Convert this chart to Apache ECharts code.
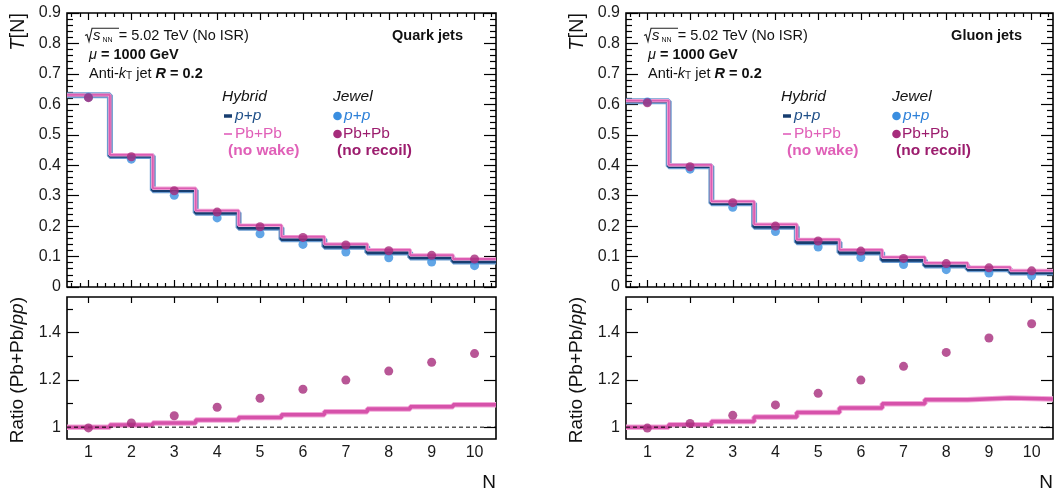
<!DOCTYPE html>
<html>
<head>
<meta charset="utf-8">
<script src="https://cdn.jsdelivr.net/npm/echarts@6/dist/echarts.min.js"></script>
<style>
html, body { margin: 0; padding: 0; background: #fff; }
#chart { width: 1055px; height: 491px; }
</style>
</head>
<body>
<div id="chart"></div>
<script>
// N bins
const bins = [1, 2, 3, 4, 5, 6, 7, 8, 9, 10];

// quark jets
const quarkHybridPP   = [0.630, 0.430, 0.318, 0.244, 0.195, 0.157, 0.132, 0.113, 0.097, 0.084];
const quarkHybridPbPb = [0.631, 0.434, 0.324, 0.251, 0.203, 0.165, 0.141, 0.122, 0.105, 0.092];
const quarkJewelPP    = [0.623, 0.420, 0.301, 0.227, 0.175, 0.140, 0.115, 0.096, 0.082, 0.070];
const quarkJewelPbPb  = [0.622, 0.428, 0.316, 0.246, 0.198, 0.163, 0.138, 0.119, 0.104, 0.092];
const quarkHybridRatio = [1.000, 1.009, 1.018, 1.030, 1.041, 1.052, 1.065, 1.077, 1.086, 1.095];
const quarkJewelRatio  = [0.997, 1.018, 1.048, 1.084, 1.122, 1.160, 1.199, 1.237, 1.274, 1.311];

// gluon jets
const gluonHybridPP   = [0.610, 0.397, 0.275, 0.198, 0.147, 0.113, 0.089, 0.071, 0.058, 0.048];
const gluonHybridPbPb = [0.612, 0.401, 0.281, 0.206, 0.156, 0.122, 0.098, 0.079, 0.065, 0.054];
const gluonJewelPP    = [0.608, 0.387, 0.262, 0.182, 0.131, 0.097, 0.074, 0.057, 0.046, 0.037];
const gluonJewelPbPb  = [0.605, 0.395, 0.277, 0.200, 0.151, 0.118, 0.094, 0.077, 0.063, 0.053];
const gluonHybridRatio = [1.000, 1.010, 1.024, 1.043, 1.062, 1.081, 1.099, 1.116, 1.123, 1.119];
const gluonJewelRatio  = [0.996, 1.016, 1.050, 1.094, 1.143, 1.199, 1.257, 1.316, 1.377, 1.437];

// axis ticks
const topTicks = [0, 0.1, 0.2, 0.3, 0.4, 0.5, 0.6, 0.7, 0.8, 0.9];
const ratioTicks = [1, 1.2, 1.4];
const ratioMinorTicks = [1.1, 1.3, 1.5];

const FONT = '"Liberation Sans", Arial, Helvetica, sans-serif';
const NAVY = '#173e70', NAVY_LIGHT = '#6b9bd0';
const PINK = '#dc5cb2', PINK_LIGHT = '#f2a8d8';
const BLUE_DOT = '#3a8ee0', MAG_DOT = '#a62c7c';

// minor ticks (0.2 on x, 0.02 on top y)
const xMinor = [];
for (let v = 0.6; v < 10.5; v += 0.2) {
  if (Math.abs(v - Math.round(v)) > 0.05) xMinor.push(+v.toFixed(1));
}
const yMinor = [];
for (let v = 0.02; v < 0.9; v += 0.02) {
  if (Math.abs(v * 10 - Math.round(v * 10)) > 0.05) yMinor.push(+v.toFixed(2));
}

const panels = [
  { dx: 0, left: 67, width: 429, title: 'Quark jets',
    hybPP: quarkHybridPP, hybPbPb: quarkHybridPbPb, jewPP: quarkJewelPP, jewPbPb: quarkJewelPbPb,
    hybRatio: quarkHybridRatio, jewRatio: quarkJewelRatio },
  { dx: 559, left: 626, width: 427, title: 'Gluon jets',
    hybPP: gluonHybridPP, hybPbPb: gluonHybridPbPb, jewPP: gluonJewelPP, jewPbPb: gluonJewelPbPb,
    hybRatio: gluonHybridRatio, jewRatio: gluonJewelRatio }
];

const grids = [], xAxes = [], yAxes = [], series = [], graphics = [];

// one axis = one set of inside ticks (ROOT style frame)
function tickAxis(gi, pos, min, max, ticks, len, labels) {
  return {
    type: 'value', gridIndex: gi, position: pos, min: min, max: max,
    axisLine: { show: false, onZero: false },
    splitLine: { show: false },
    axisTick: { show: ticks.length > 0, inside: true, length: len, customValues: ticks,
      lineStyle: { color: '#000', width: 1.2 } },
    axisLabel: labels ? { show: true, customValues: labels, margin: 6,
      fontFamily: FONT, fontSize: 16, color: '#1a1a1a' } : { show: false }
  };
}

function stepData(vals) {
  const d = vals.map((v, i) => [bins[i] - 0.5, v]);
  d.push([bins[bins.length - 1] + 0.5, vals[vals.length - 1]]);
  return d;
}
function pts(vals) { return vals.map((v, i) => [bins[i], v]); }

function stepLine(xi, yi, vals, color, width, z) {
  return { type: 'line', xAxisIndex: xi, yAxisIndex: yi, step: 'end', data: stepData(vals),
    symbol: 'none', lineStyle: { color: color, width: width }, z: z, silent: true };
}
function dots(xi, yi, vals, color, z) {
  return { type: 'scatter', xAxisIndex: xi, yAxisIndex: yi, data: pts(vals),
    symbolSize: 9, itemStyle: { color: color }, z: z, silent: true };
}

function txt(x, y, text, o) {
  return { type: 'text', x: x, y: y, silent: true, z: 100,
    style: Object.assign({ text: text, fontFamily: FONT, fontSize: 14, fill: '#111',
      align: 'left', verticalAlign: 'middle' }, o) };
}

panels.forEach((p) => {
  const gTop = grids.length;
  grids.push({ left: p.left, top: 13, width: p.width, height: 274, show: true,
    borderColor: '#000', borderWidth: 1.6, backgroundColor: 'transparent' });
  const gRat = grids.length;
  grids.push({ left: p.left, top: 297, width: p.width, height: 142, show: true,
    borderColor: '#000', borderWidth: 1.6, backgroundColor: 'transparent' });

  // top panel axes
  const xTop = xAxes.length;
  xAxes.push(tickAxis(gTop, 'bottom', 0.5, 10.5, bins, 7, null));
  xAxes.push(tickAxis(gTop, 'bottom', 0.5, 10.5, xMinor, 4, null));
  xAxes.push(tickAxis(gTop, 'top', 0.5, 10.5, bins, 7, null));
  xAxes.push(tickAxis(gTop, 'top', 0.5, 10.5, xMinor, 4, null));
  const yTop = yAxes.length;
  yAxes.push(tickAxis(gTop, 'left', 0, 0.9, topTicks, 12, topTicks));
  yAxes.push(tickAxis(gTop, 'left', 0, 0.9, yMinor, 6, null));
  yAxes.push(tickAxis(gTop, 'right', 0, 0.9, topTicks, 12, null));
  yAxes.push(tickAxis(gTop, 'right', 0, 0.9, yMinor, 6, null));

  // ratio panel axes
  const xRat = xAxes.length;
  xAxes.push(tickAxis(gRat, 'bottom', 0.5, 10.5, [], 7, bins));
  xAxes.push(tickAxis(gRat, 'top', 0.5, 10.5, bins, 6, null));
  const yRat = yAxes.length;
  yAxes.push(tickAxis(gRat, 'left', 0.95, 1.55, ratioTicks, 12, ratioTicks));
  yAxes.push(tickAxis(gRat, 'left', 0.95, 1.55, ratioMinorTicks, 6, null));
  yAxes.push(tickAxis(gRat, 'right', 0.95, 1.55, ratioTicks, 12, null));
  yAxes.push(tickAxis(gRat, 'right', 0.95, 1.55, ratioMinorTicks, 6, null));

  // top panel marks
  series.push(stepLine(xTop, yTop, p.hybPP, NAVY_LIGHT, 6, 2));
  series.push(stepLine(xTop, yTop, p.hybPP, NAVY, 3.5, 3));
  series.push(stepLine(xTop, yTop, p.hybPbPb, PINK_LIGHT, 3.5, 4));
  series.push(stepLine(xTop, yTop, p.hybPbPb, PINK, 1.8, 5));
  series.push(dots(xTop, yTop, p.jewPP, BLUE_DOT, 6));
  series.push(dots(xTop, yTop, p.jewPbPb, MAG_DOT, 7));

  // ratio panel marks
  series.push(stepLine(xRat, yRat, p.hybRatio, PINK_LIGHT, 5.5, 2));
  series.push(stepLine(xRat, yRat, p.hybRatio, '#d652aa', 3.5, 3));
  series.push({ type: 'line', xAxisIndex: xRat, yAxisIndex: yRat, data: [[0.5, 1], [10.5, 1]],
    symbol: 'none', lineStyle: { color: '#000', width: 1, type: [4, 3] }, z: 4, silent: true });
  series.push(dots(xRat, yRat, p.jewRatio, MAG_DOT, 6));

  const dx = p.dx;
  // info text
  graphics.push({ type: 'polyline', silent: true, z: 100,
    shape: { points: [[85 + dx, 35.5], [87 + dx, 34.5], [89 + dx, 41.5], [92 + dx, 28.3], [119 + dx, 28.3]] },
    style: { stroke: '#222', lineWidth: 1.1, fill: null } });
  graphics.push(txt(93 + dx, 36, '{s|s}{nn|NN}{t| = 5.02 TeV (No ISR)}', {
    rich: {
      s: { fontFamily: FONT, fontSize: 15, fontStyle: 'italic', fill: '#111' },
      nn: { fontFamily: FONT, fontSize: 7, fill: '#111', verticalAlign: 'bottom', padding: [0, 2, 0, 2] },
      t: { fontFamily: FONT, fontSize: 14.5, fill: '#111' }
    } }));
  graphics.push(txt(89 + dx, 55, '{m|μ}{b| = 1000 GeV}', {
    rich: {
      m: { fontFamily: FONT, fontSize: 14.5, fontStyle: 'italic', fill: '#111' },
      b: { fontFamily: FONT, fontSize: 14.5, fontWeight: 'bold', fill: '#111' }
    } }));
  graphics.push(txt(89 + dx, 74, '{r|Anti-}{k|k}{sub|T}{r| jet }{R|R}{b| = 0.2}', {
    rich: {
      r: { fontFamily: FONT, fontSize: 14.5, fill: '#111' },
      k: { fontFamily: FONT, fontSize: 14.5, fontStyle: 'italic', fill: '#111' },
      sub: { fontFamily: FONT, fontSize: 10, fill: '#111', verticalAlign: 'bottom' },
      R: { fontFamily: FONT, fontSize: 14.5, fontStyle: 'italic', fontWeight: 'bold', fill: '#111' },
      b: { fontFamily: FONT, fontSize: 14.5, fontWeight: 'bold', fill: '#111' }
    } }));
  graphics.push(txt(463 + dx, 36, p.title, { align: 'right', fontWeight: 'bold', fontSize: 14.5 }));

  // legend
  graphics.push(txt(222 + dx, 97, 'Hybrid', { fontSize: 15.5, fontStyle: 'italic' }));
  graphics.push({ type: 'line', silent: true, z: 100,
    shape: { x1: 224 + dx, y1: 116, x2: 232 + dx, y2: 116 }, style: { stroke: NAVY, lineWidth: 3.5 } });
  graphics.push(txt(235 + dx, 116, 'p+p', { fontSize: 15.5, fontStyle: 'italic', fill: '#1f4f88' }));
  graphics.push({ type: 'line', silent: true, z: 100,
    shape: { x1: 224 + dx, y1: 134, x2: 232 + dx, y2: 134 }, style: { stroke: '#e77fc9', lineWidth: 2 } });
  graphics.push(txt(235 + dx, 134, 'Pb+Pb', { fontSize: 15.5, fill: '#e060b8' }));
  graphics.push(txt(228 + dx, 151, '(no wake)', { fontSize: 15.5, fontWeight: 'bold', fill: '#e060b8' }));

  graphics.push(txt(333 + dx, 97, 'Jewel', { fontSize: 15.5, fontStyle: 'italic' }));
  graphics.push({ type: 'circle', silent: true, z: 100,
    shape: { cx: 337.5 + dx, cy: 116, r: 4.3 }, style: { fill: BLUE_DOT } });
  graphics.push(txt(344 + dx, 116, 'p+p', { fontSize: 15.5, fontStyle: 'italic', fill: '#2d80d8' }));
  graphics.push({ type: 'circle', silent: true, z: 100,
    shape: { cx: 337.5 + dx, cy: 134, r: 4.3 }, style: { fill: MAG_DOT } });
  graphics.push(txt(343 + dx, 134, 'Pb+Pb', { fontSize: 15.5, fill: '#9c1d6e' }));
  graphics.push(txt(337 + dx, 151, '(no recoil)', { fontSize: 15.5, fontWeight: 'bold', fill: '#9c1d6e' }));

  // axis titles
  const tTitle = txt(18 + dx, 13, '{i|T}{n|[N]}', { align: 'right',
    rich: {
      i: { fontFamily: FONT, fontSize: 20, fontStyle: 'italic', fill: '#111' },
      n: { fontFamily: FONT, fontSize: 20, fill: '#111' }
    } });
  tTitle.rotation = Math.PI / 2;
  graphics.push(tTitle);
  const rTitle = txt(18 + dx, 297, '{n|Ratio (Pb+Pb/}{i|pp}{n|)}', { align: 'right',
    rich: {
      i: { fontFamily: FONT, fontSize: 19, fontStyle: 'italic', fill: '#111' },
      n: { fontFamily: FONT, fontSize: 19, fill: '#111' }
    } });
  rTitle.rotation = Math.PI / 2;
  graphics.push(rTitle);
  graphics.push(txt(p.left + p.width, 483, 'N', { align: 'right', fontSize: 19 }));
});

const chart = echarts.init(document.getElementById('chart'));
chart.setOption({
  animation: false,
  backgroundColor: '#fff',
  grid: grids,
  xAxis: xAxes,
  yAxis: yAxes,
  series: series,
  graphic: graphics
});
</script>
</body>
</html>
